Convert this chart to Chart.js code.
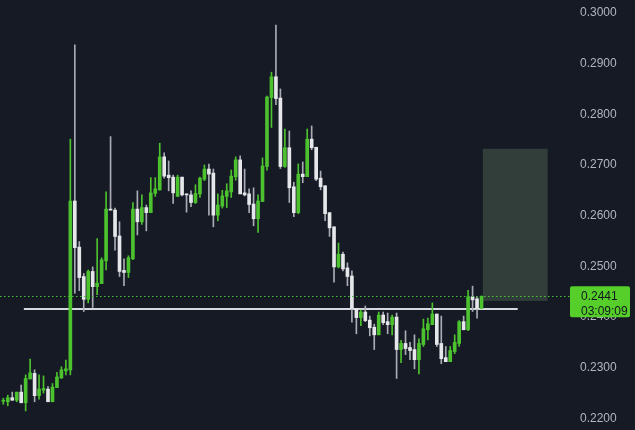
<!DOCTYPE html>
<html>
<head>
<meta charset="utf-8">
<script src="https://cdn.jsdelivr.net/npm/chart.js@4/dist/chart.umd.min.js"></script>
<style>
    html, body { margin: 0; padding: 0; background: #161a25; }
    #wrap { width: 635px; height: 430px; }
</style>
</head>
<body>
<div id="wrap"><canvas id="priceChart"></canvas></div>
<script>
// --- Data ---
const opens = [
    0.2234, 0.2233, 0.2241, 0.2236, 0.2252, 0.2231, 0.2278, 0.2289, 0.2245, 0.2256,
    0.2258, 0.2233, 0.2261, 0.2280, 0.2294, 0.2296, 0.2629, 0.2538, 0.2480, 0.2435,
    0.2490, 0.2460, 0.2466, 0.2511, 0.2613, 0.2611, 0.2560, 0.2492, 0.2488, 0.2515,
    0.2613, 0.2588, 0.2616, 0.2606, 0.2644, 0.2651, 0.2716, 0.2680, 0.2676, 0.2638,
    0.2676, 0.2643, 0.2641, 0.2626, 0.2643, 0.2672, 0.2692, 0.2684, 0.2601, 0.2619,
    0.2638, 0.2647, 0.2677, 0.2710, 0.2645, 0.2643, 0.2623, 0.2594, 0.2628, 0.2697,
    0.2833, 0.2874, 0.2832, 0.2697, 0.2734, 0.2657, 0.2606, 0.2682, 0.2677, 0.2751,
    0.2735, 0.2674, 0.2659, 0.2606, 0.2578, 0.2499, 0.2524, 0.2497, 0.2481, 0.2417,
    0.2399, 0.2410, 0.2394, 0.2380, 0.2365, 0.2404, 0.2391, 0.2385, 0.2400, 0.2336,
    0.2348, 0.2340, 0.2336, 0.2316, 0.2346, 0.2375, 0.2385, 0.2406, 0.2348, 0.2320,
    0.2312, 0.2332, 0.2348, 0.2391, 0.2375, 0.2440, 0.2436, 0.2417
];
const closes = [
    0.2236, 0.2241, 0.2236, 0.2252, 0.2231, 0.2279, 0.2290, 0.2245, 0.2258, 0.2259,
    0.2233, 0.2262, 0.2282, 0.2296, 0.2298, 0.2629, 0.2537, 0.2478, 0.2435, 0.2490,
    0.2460, 0.2467, 0.2513, 0.2613, 0.2611, 0.2559, 0.2490, 0.2488, 0.2517, 0.2613,
    0.2588, 0.2616, 0.2606, 0.2645, 0.2653, 0.2716, 0.2678, 0.2675, 0.2645, 0.2676,
    0.2641, 0.2641, 0.2626, 0.2644, 0.2674, 0.2692, 0.2682, 0.2601, 0.2621, 0.2639,
    0.2649, 0.2678, 0.2710, 0.2643, 0.2641, 0.2622, 0.2594, 0.2629, 0.2698, 0.2834,
    0.2874, 0.2831, 0.2697, 0.2734, 0.2655, 0.2606, 0.2682, 0.2677, 0.2751, 0.2734,
    0.2672, 0.2657, 0.2604, 0.2576, 0.2499, 0.2524, 0.2495, 0.2480, 0.2417, 0.2399,
    0.2410, 0.2393, 0.2379, 0.2365, 0.2404, 0.2389, 0.2385, 0.2400, 0.2336, 0.2348,
    0.2338, 0.2334, 0.2316, 0.2348, 0.2377, 0.2387, 0.2406, 0.2346, 0.2318, 0.2312,
    0.2334, 0.2350, 0.2391, 0.2375, 0.2440, 0.2434, 0.2417, 0.2441
];
const highs = [
    0.2240, 0.2246, 0.2252, 0.2252, 0.2266, 0.2286, 0.2317, 0.2296, 0.2286, 0.2284,
    0.2263, 0.2269, 0.2291, 0.2302, 0.2315, 0.2751, 0.2937, 0.2549, 0.2486, 0.2493,
    0.2499, 0.2555, 0.2517, 0.2647, 0.2756, 0.2615, 0.2588, 0.2515, 0.2521, 0.2626,
    0.2649, 0.2641, 0.2621, 0.2675, 0.2675, 0.2743, 0.2724, 0.2708, 0.2680, 0.2680,
    0.2676, 0.2643, 0.2649, 0.2661, 0.2676, 0.2700, 0.2702, 0.2692, 0.2643, 0.2650,
    0.2663, 0.2690, 0.2716, 0.2718, 0.2692, 0.2653, 0.2655, 0.2641, 0.2714, 0.2836,
    0.2883, 0.2976, 0.2850, 0.2771, 0.2767, 0.2666, 0.2702, 0.2706, 0.2771, 0.2777,
    0.2735, 0.2688, 0.2659, 0.2606, 0.2578, 0.2546, 0.2528, 0.2507, 0.2491, 0.2417,
    0.2414, 0.2422, 0.2402, 0.2386, 0.2410, 0.2410, 0.2408, 0.2404, 0.2408, 0.2354,
    0.2373, 0.2350, 0.2365, 0.2357, 0.2396, 0.2398, 0.2428, 0.2406, 0.2402, 0.2342,
    0.2342, 0.2365, 0.2393, 0.2402, 0.2453, 0.2461, 0.2440, 0.2442
];
const lows = [
    0.2228, 0.2225, 0.2236, 0.2233, 0.2231, 0.2215, 0.2278, 0.2233, 0.2238, 0.2250,
    0.2233, 0.2233, 0.2261, 0.2279, 0.2286, 0.2286, 0.2447, 0.2452, 0.2411, 0.2428,
    0.2419, 0.2444, 0.2466, 0.2493, 0.2611, 0.2532, 0.2480, 0.2462, 0.2478, 0.2513,
    0.2562, 0.2583, 0.2570, 0.2606, 0.2638, 0.2650, 0.2674, 0.2649, 0.2624, 0.2638,
    0.2639, 0.2607, 0.2618, 0.2624, 0.2636, 0.2669, 0.2601, 0.2578, 0.2590, 0.2615,
    0.2616, 0.2636, 0.2670, 0.2643, 0.2639, 0.2606, 0.2580, 0.2567, 0.2628, 0.2690,
    0.2774, 0.2819, 0.2693, 0.2695, 0.2626, 0.2598, 0.2604, 0.2665, 0.2677, 0.2730,
    0.2669, 0.2651, 0.2590, 0.2559, 0.2469, 0.2497, 0.2491, 0.2462, 0.2390, 0.2367,
    0.2383, 0.2391, 0.2363, 0.2336, 0.2365, 0.2385, 0.2367, 0.2365, 0.2279, 0.2310,
    0.2326, 0.2316, 0.2298, 0.2288, 0.2342, 0.2355, 0.2385, 0.2342, 0.2308, 0.2312,
    0.2312, 0.2328, 0.2342, 0.2375, 0.2373, 0.2411, 0.2398, 0.2417
];
const priceTicks = [0.22, 0.23, 0.24, 0.25, 0.26, 0.27, 0.28, 0.29, 0.30];

// drawn level + projection box (bar index / price)
const levelPrice = 0.2416;
const levelRange = [4.6, 115.1];
const zoneRange = [107.3, 121.8];
const zonePrices = [0.2432, 0.2732];
const countdownText = '03:09:09';

// --- Colours ---
const BG = '#161a25';
const UP = '#4cc22e';
const DOWN = '#e6e7ea';
const DOWN_WICK = '#a9acb4';

const lastClose = closes[closes.length - 1];
const bodyData = opens.map((o, i) => ({ x: i, y: [o, closes[i]] }));
const wickData = lows.map((l, i) => ({ x: i, y: [l, highs[i]] }));
const candleColors = opens.map((o, i) => closes[i] >= o ? UP : DOWN);
const wickColors = opens.map((o, i) => closes[i] >= o ? UP : DOWN_WICK);

// --- Plugins ---
const backdropPlugin = {
    id: 'backdrop',
    beforeDraw(chart) {
        const ctx = chart.ctx;
        ctx.save();
        ctx.fillStyle = BG;
        ctx.fillRect(0, 0, chart.width, chart.height);
        ctx.restore();
    },
    beforeDatasetsDraw(chart) {
        const { ctx, scales: { x, y } } = chart;
        ctx.save();
        ctx.fillStyle = '#323e3a';
        const x0 = x.getPixelForValue(zoneRange[0]);
        const x1 = x.getPixelForValue(zoneRange[1]);
        const y0 = y.getPixelForValue(zonePrices[1]);
        const y1 = y.getPixelForValue(zonePrices[0]);
        ctx.fillRect(x0, y0, x1 - x0, y1 - y0);
        ctx.restore();
    },
    afterDatasetsDraw(chart) {
        // dotted last-price line
        const { ctx, chartArea, scales: { y } } = chart;
        const py = Math.round(y.getPixelForValue(lastClose)) + 0.5;
        ctx.save();
        ctx.strokeStyle = UP;
        ctx.lineWidth = 1;
        ctx.setLineDash([1.5, 2.5]);
        ctx.beginPath();
        ctx.moveTo(chartArea.left, py);
        ctx.lineTo(chartArea.right, py);
        ctx.stroke();
        ctx.restore();
    },
    afterDraw(chart) {
        // price / countdown tag on the axis
        const { ctx, chartArea, scales: { y } } = chart;
        const py = y.getPixelForValue(lastClose);
        const bx = chartArea.right;
        const by = py - 10;
        ctx.save();
        ctx.fillStyle = '#56cf2a';
        ctx.beginPath();
        ctx.roundRect(bx, by, 60, 31, 2);
        ctx.fill();
        ctx.fillStyle = '#131722';
        ctx.font = '12px "Liberation Sans", Arial, sans-serif';
        ctx.textAlign = 'left';
        ctx.textBaseline = 'middle';
        ctx.fillText(lastClose.toFixed(4), bx + 11, py);
        ctx.fillText(countdownText, bx + 11, py + 15);
        ctx.restore();
    }
};

// --- Chart ---
const chartCtx = document.getElementById('priceChart').getContext('2d');
const priceChart = new Chart(chartCtx, {
    type: 'bar',
    data: {
        datasets: [
            {
                type: 'line',
                data: levelRange.map(v => ({ x: v, y: levelPrice })),
                borderColor: '#d6d8de',
                borderWidth: 2,
                pointRadius: 0,
                order: 3
            },
            {
                data: wickData,
                backgroundColor: wickColors,
                barThickness: 1,
                minBarLength: 1,
                grouped: false,
                order: 2
            },
            {
                data: bodyData,
                backgroundColor: candleColors,
                barThickness: 3,
                minBarLength: 1,
                grouped: false,
                order: 1
            }
        ]
    },
    options: {
        responsive: true,
        maintainAspectRatio: false,
        animation: false,
        layout: { padding: 0 },
        scales: {
            x: {
                type: 'linear',
                min: -0.74,
                max: 126.8,
                offset: false,
                display: false
            },
            y: {
                position: 'right',
                min: 0.21773,
                max: 0.30254,
                grid: { display: false, drawTicks: false },
                border: { display: false },
                afterBuildTicks: scale => {
                    scale.ticks = priceTicks.map(v => ({ value: v }));
                },
                afterFit: scale => {
                    scale.width = 65;
                    scale.paddingTop = 0;
                    scale.paddingBottom = 0;
                },
                ticks: {
                    padding: 10,
                    color: '#b2b5be',
                    font: { family: '"Liberation Sans", Arial, sans-serif', size: 12 },
                    callback: v => Number(v).toFixed(4)
                }
            }
        },
        plugins: {
            legend: { display: false },
            tooltip: { enabled: false }
        }
    },
    plugins: [backdropPlugin]
});
</script>
</body>
</html>
